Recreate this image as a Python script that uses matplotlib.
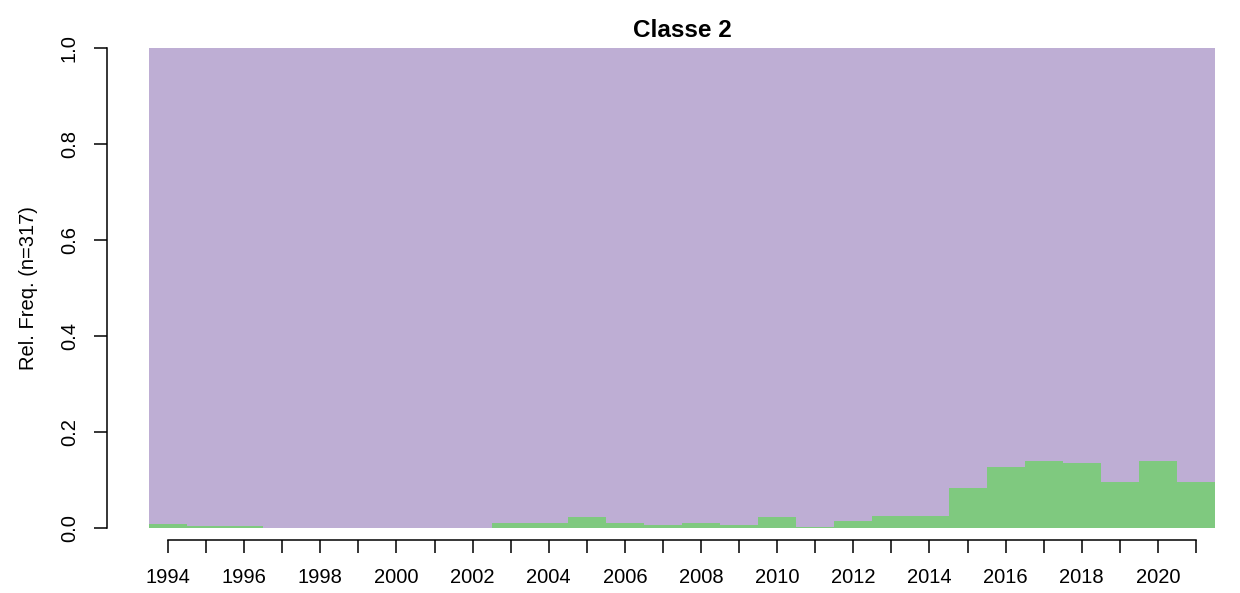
import matplotlib
matplotlib.use("Agg")

import matplotlib.pyplot as plt
import numpy as np

plt.rcParams["font.family"] = ["Liberation Sans", "DejaVu Sans"]

# relative frequency of the smaller class per year (rest of each column is the other class)
years = np.arange(1994, 2022)
green_share = [
    0.008, 0.004, 0.004, 0.0, 0.0, 0.0, 0.0, 0.0, 0.0, 0.011,
    0.011, 0.023, 0.011, 0.007, 0.011, 0.007, 0.023, 0.003, 0.015, 0.026,
    0.026, 0.083, 0.128, 0.140, 0.136, 0.096, 0.140, 0.096,
]
purple_share = [1.0 - g for g in green_share]

GREEN = "#7FC97F"
PURPLE = "#BEAED4"

fig = plt.figure(figsize=(12.4, 5.93), dpi=100)
ax = fig.add_axes([149 / 1240, 1 - 528 / 593, (1215 - 149) / 1240, 480 / 593])

# each class drawn as one filled step outline, so adjacent years join without seams
edges = np.append(years - 0.5, years[-1] + 0.5)
total = np.add(green_share, purple_share)
ax.stairs(total, edges, baseline=green_share, fill=True, color=PURPLE, linewidth=0)
ax.stairs(green_share, edges, baseline=0, fill=True, color=GREEN, linewidth=0)

ax.set_xlim(1993.5, 2021.5)
ax.set_ylim(0, 1)

for side in ("top", "right"):
    ax.spines[side].set_visible(False)
ax.spines["left"].set_position(("outward", 30))
ax.spines["bottom"].set_position(("outward", 8.6))
ax.spines["left"].set_bounds(0, 1)
ax.spines["bottom"].set_bounds(1994, 2021)
for sp in ("left", "bottom"):
    ax.spines[sp].set_linewidth(1.1)

ax.set_xticks(years)
ax.set_xticklabels([str(y) if y % 2 == 0 else "" for y in years])
ax.set_yticks(np.arange(0, 1.01, 0.2))
ax.set_yticklabels([f"{v:.1f}" for v in np.arange(0, 1.01, 0.2)], rotation=90, va="center")
ax.tick_params(axis="both", length=9.5, width=1.1, labelsize=14.5, color="black")
ax.tick_params(axis="x", pad=11)
ax.tick_params(axis="y", pad=11)

ax.set_ylabel("Rel. Freq. (n=317)", fontsize=14.5, labelpad=16)
ax.set_title("Classe 2", fontsize=17.5, fontweight="bold", pad=8)

fig.savefig("out.png", dpi=100)
